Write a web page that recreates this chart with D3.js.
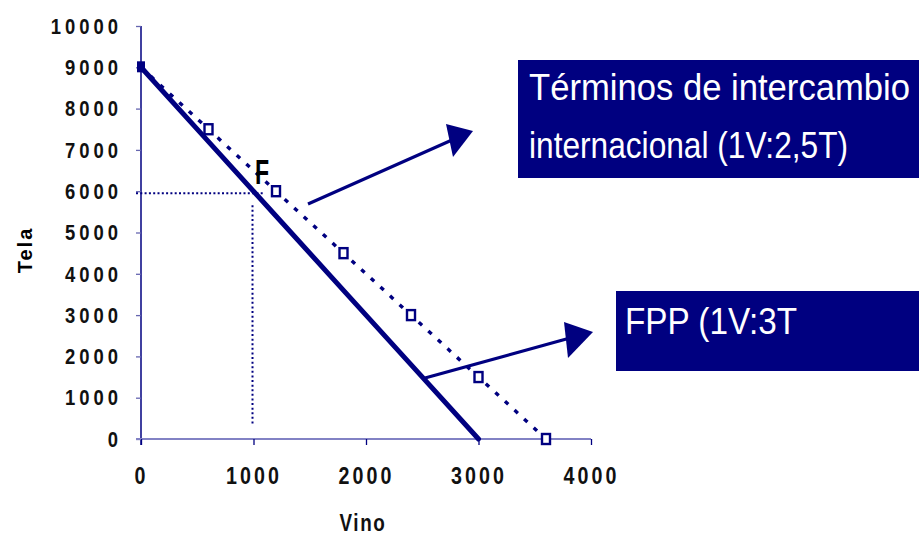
<!DOCTYPE html>
<html><head><meta charset="utf-8">
<script src="https://cdn.jsdelivr.net/npm/d3@7"></script>
<style>
html,body{margin:0;padding:0;background:#fff;}
svg{display:block;}
</style></head>
<body>
<svg id="c" width="919" height="536"></svg>
<script>
// ---- data ----
const xTicks = [0, 1000, 2000, 3000, 4000];
const yTicks = [0, 1000, 2000, 3000, 4000, 5000, 6000, 7000, 8000, 9000, 10000];
const fppVino = [0, 600, 1200, 1800, 2400, 3000];
const fppTela = [9000, 7200, 5400, 3600, 1800, 0];
const tradeVino = [0, 600, 1200, 1800, 2400, 3000, 3600];
const tradeTela = [9000, 7500, 6000, 4500, 3000, 1500, 0];
const pointF = [1000, 5950];
const xTitle = "Vino";
const yTitle = "Tela";
const box1Lines = ["Términos de intercambio", "internacional (1V:2,5T)"];
const box2Lines = ["FPP (1V:3T"];

const navy = "#000080";
const svg = d3.select("#c");
const x = d3.scaleLinear().domain([0, 4000]).range([141, 591]);
const y = d3.scaleLinear().domain([0, 10000]).range([439, 26]);
const font = "'Liberation Sans',Arial,sans-serif";
const SX = 0.82;

// y axis
const gy = svg.append("g").attr("transform", `translate(${x(0)},0)`)
  .call(d3.axisLeft(y).tickValues(yTicks).tickSize(5).tickFormat(d3.format("d")));
gy.select(".domain").attr("stroke", navy).attr("stroke-width", 1.5).attr("d", `M0,${y(0)+6}V${y(10000)}`);
gy.selectAll(".tick line").attr("stroke", "#6666b0").attr("stroke-width", 1.3);
gy.selectAll(".tick text").attr("font-family", font).attr("font-weight", "bold")
  .attr("font-size", 22.5).attr("fill", "#111")
  .attr("letter-spacing", 4 / SX)
  .attr("x", (-23 + 4) / SX)
  .attr("transform", `scale(${SX},1)`);

// x axis
const gx = svg.append("g").attr("transform", `translate(0,${y(0)})`)
  .call(d3.axisBottom(x).tickValues(xTicks).tickSize(6).tickPadding(22).tickFormat(d3.format("d")));
gx.select(".domain").attr("stroke", "#8282c4").attr("stroke-width", 2).attr("d", `M${x(0)-5},0H${x(4000)}`);
gx.selectAll(".tick line").attr("stroke", navy).attr("stroke-width", 1.3);
gx.selectAll(".tick text").attr("font-family", font).attr("font-weight", "bold")
  .attr("font-size", 24).attr("fill", "#111")
  .attr("letter-spacing", 3 / SX)
  .attr("x", 0)
  .attr("transform", `scale(${SX},1)`);

// axis titles
svg.append("text").attr("transform", `translate(363,531) scale(${SX},1)`).attr("text-anchor", "middle")
  .attr("font-family", font).attr("font-weight", "bold").attr("font-size", 23)
  .attr("letter-spacing", 2).attr("fill", "#111").text(xTitle);
svg.append("text").attr("transform", "translate(32,250) rotate(-90)").attr("text-anchor", "middle")
  .attr("font-family", font).attr("font-weight", "bold").attr("font-size", 20)
  .attr("letter-spacing", 2).attr("fill", "#000").text(yTitle);

// guide dotted lines to F
svg.append("line").attr("x1", x(0) - 5).attr("x2", x(pointF[0]) + 10)
  .attr("y1", y(pointF[1])).attr("y2", y(pointF[1]))
  .attr("stroke", navy).attr("stroke-width", 2).attr("stroke-dasharray", "2,2.3");
svg.append("line").attr("x1", x(pointF[0]) - 1).attr("x2", x(pointF[0]) - 1)
  .attr("y1", y(pointF[1]) + 12).attr("y2", y(350))
  .attr("stroke", navy).attr("stroke-width", 2).attr("stroke-dasharray", "2,2.6");

// trade line (dotted)
const tradePts = tradeVino.map((v, i) => [x(v), y(tradeTela[i])]);
svg.append("path").attr("d", d3.line()(tradePts)).attr("fill", "none")
  .attr("stroke", navy).attr("stroke-width", 3.4).attr("stroke-dasharray", "4.5,8.5");

// FPP line
const fppPts = fppVino.map((v, i) => [x(v), y(fppTela[i])]);
svg.append("path").attr("d", d3.line()(fppPts)).attr("fill", "none")
  .attr("stroke", navy).attr("stroke-width", 5).attr("stroke-linecap", "round");

// markers on trade line
svg.selectAll("rect.mk").data(tradePts.slice(1)).join("rect").attr("class", "mk")
  .attr("x", d => d[0] - 4).attr("y", d => d[1] - 5).attr("width", 8).attr("height", 10)
  .attr("fill", "#fff").attr("stroke", navy).attr("stroke-width", 2.4);
svg.append("rect").attr("x", tradePts[0][0] - 4).attr("y", tradePts[0][1] - 6)
  .attr("width", 8).attr("height", 11).attr("fill", navy);

// F label
svg.append("text").attr("transform", "translate(255,184) scale(0.66,1)").attr("font-family", font)
  .attr("font-weight", "bold").attr("font-size", 35).attr("fill", "#000").text("F");

// arrows
function arrow(x1, y1, base, tip, h1, h2) {
  svg.append("line").attr("x1", x1).attr("y1", y1).attr("x2", base[0]).attr("y2", base[1])
    .attr("stroke", navy).attr("stroke-width", 3.2);
  svg.append("path").attr("d", `M${h1[0]},${h1[1]}L${tip[0]},${tip[1]}L${h2[0]},${h2[1]}Z`).attr("fill", navy);
}
arrow(308, 204, [452, 140], [473, 131], [446, 124], [453, 157]);
arrow(425, 378, [570, 338], [593, 332], [564, 322], [568, 358]);

// boxes (text condensed with a horizontal scale)
const BS = 0.78;
svg.append("rect").attr("x", 518).attr("y", 60).attr("width", 401).attr("height", 118).attr("fill", navy);
const b1w = [381, 319];
box1Lines.forEach((t, i) => {
  svg.append("text").attr("transform", `translate(529,${100 + i * 58}) scale(${BS},1)`)
    .attr("font-family", font).attr("font-size", 37).attr("fill", "#fff")
    .attr("textLength", b1w[i] / BS).attr("lengthAdjust", "spacingAndGlyphs").text(t);
});
svg.append("rect").attr("x", 616).attr("y", 291).attr("width", 303).attr("height", 80).attr("fill", navy);
box2Lines.forEach((t) => {
  svg.append("text").attr("transform", `translate(625,334) scale(${BS},1)`)
    .attr("font-family", font).attr("font-size", 37).attr("fill", "#fff")
    .attr("textLength", 172 / BS).attr("lengthAdjust", "spacingAndGlyphs").text(t);
});
</script>
</body></html>
